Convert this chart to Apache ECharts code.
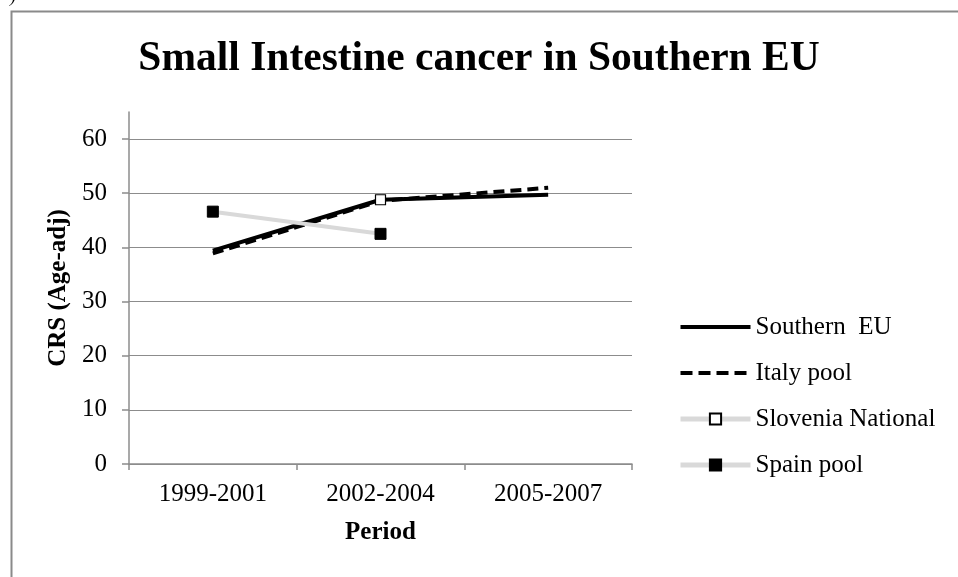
<!DOCTYPE html>
<html>
<head>
<meta charset="utf-8">
<script src="https://cdn.jsdelivr.net/npm/echarts@6/dist/echarts.min.js"></script>
<style>
html,body{margin:0;padding:0;background:#fff;}
#chart{width:958px;height:577px;}
</style>
</head>
<body>
<div id="chart"></div>
<script>
var titleText = 'Small Intestine cancer in Southern EU';
var categories = ['1999-2001', '2002-2004', '2005-2007'];
var seriesNames = ['Southern  EU', 'Italy pool', 'Slovenia National', 'Spain pool'];
var southernEU = [39.4, 48.8, 49.7];
var italyPool = [38.9, 48.6, 51.0];
var sloveniaNational = [null, 48.8, null];
var spainPool = [46.6, 42.5, null];
var yTicks = [0, 10, 20, 30, 40, 50, 60];

var FONT = 'Liberation Serif';
var chart = echarts.init(document.getElementById('chart'), null, {renderer: 'canvas'});
chart.setOption({
  backgroundColor: '#ffffff',
  animation: false,
  title: {
    text: titleText,
    left: 'center',
    top: 33,
    textStyle: {fontFamily: FONT, fontSize: 41.5, fontWeight: 'bold', color: '#000'}
  },
  graphic: [
    {type: 'rect', left: 9, top: 9, shape: {width: 1000, height: 600}, style: {fill: 'none', stroke: '#8a8a8a', lineWidth: 2}, z: 100},
    {type: 'text', left: 10, top: -12, style: {text: ')', fontFamily: FONT, fontSize: 18, fontStyle: 'italic', fill: '#000'}}
  ],
  legend: {
    orient: 'vertical',
    left: 678,
    top: 314,
    padding: 0,
    itemWidth: 70,
    itemHeight: 14,
    itemGap: 20,
    textStyle: {fontFamily: FONT, fontSize: 25, color: '#000', lineHeight: 26},
    data: [
      {name: seriesNames[0], itemStyle: {opacity: 0}, lineStyle: {width: 4, color: '#000'}},
      {name: seriesNames[1], itemStyle: {opacity: 0}, lineStyle: {width: 4, color: '#000', type: [12, 6]}},
      {name: seriesNames[2], lineStyle: {width: 5, color: '#d9d9d9'}},
      {name: seriesNames[3], lineStyle: {width: 5, color: '#d9d9d9'}}
    ]
  },
  grid: {left: 129, right: 326, top: 112, bottom: 113, containLabel: false},
  xAxis: {
    type: 'category',
    data: categories,
    boundaryGap: true,
    name: 'Period',
    nameLocation: 'middle',
    nameGap: 56,
    nameTextStyle: {fontFamily: FONT, fontSize: 25, fontWeight: 'bold', color: '#000'},
    axisLine: {lineStyle: {color: '#8c8c8c', width: 1.5}},
    axisTick: {show: true, length: 6, lineStyle: {color: '#8c8c8c', width: 1.5}},
    axisLabel: {fontFamily: FONT, fontSize: 25, color: '#000', margin: 18},
    splitLine: {show: false}
  },
  yAxis: {
    type: 'value',
    min: 0,
    max: 65,
    interval: 10,
    name: 'CRS (Age-adj)',
    nameLocation: 'middle',
    nameGap: 57,
    nameRotate: 90,
    nameTextStyle: {fontFamily: FONT, fontSize: 25, fontWeight: 'bold', color: '#000'},
    axisLine: {show: true, lineStyle: {color: '#8c8c8c', width: 1.5}},
    axisTick: {show: true, length: 7, customValues: yTicks, lineStyle: {color: '#8c8c8c', width: 1.5}},
    axisLabel: {fontFamily: FONT, fontSize: 25, color: '#000', margin: 22, customValues: yTicks},
    splitLine: {show: true, lineStyle: {color: '#8c8c8c', width: 1.2}}
  },
  series: [
    {
      name: seriesNames[0], type: 'line', data: southernEU,
      symbol: 'none', connectNulls: false,
      lineStyle: {color: '#000', width: 4, type: 'solid'},
      itemStyle: {color: '#000'}
    },
    {
      name: seriesNames[1], type: 'line', data: italyPool,
      symbol: 'none',
      lineStyle: {color: '#000', width: 4, type: [11, 6]},
      itemStyle: {color: '#000'}
    },
    {
      name: seriesNames[2], type: 'line', data: sloveniaNational,
      symbol: 'rect', symbolSize: 10, showSymbol: true,
      lineStyle: {color: '#d9d9d9', width: 4},
      itemStyle: {color: '#ffffff', borderColor: '#000', borderWidth: 1.2},
      z: 3
    },
    {
      name: seriesNames[3], type: 'line', data: spainPool,
      symbol: 'rect', symbolSize: 11, showSymbol: true,
      lineStyle: {color: '#d9d9d9', width: 4},
      itemStyle: {color: '#000', borderColor: '#000', borderWidth: 1},
      z: 3
    }
  ]
});
</script>
</body>
</html>
